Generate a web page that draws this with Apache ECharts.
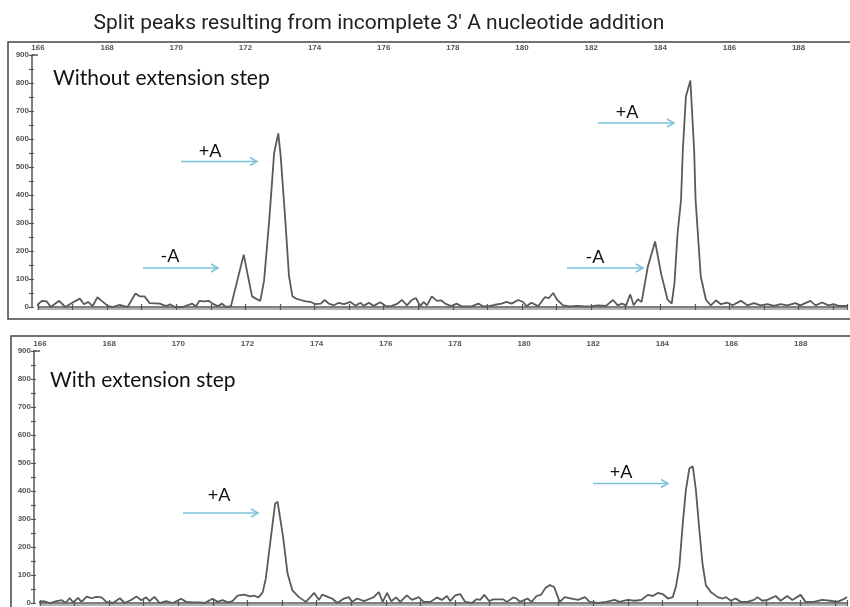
<!DOCTYPE html>
<html>
<head>
<meta charset="utf-8">
<script src="https://cdn.jsdelivr.net/npm/echarts@6/dist/echarts.min.js"></script>
<style>
    html, body { margin: 0; padding: 0; background: #fff; }
    #chart { width: 850px; height: 607px; }
</style>
</head>
<body>
<div id="chart"></div>
<script>
// electropherogram traces, [size (bp), RFU]
const topTrace = [
    [165.83, 18], [165.96, 5], [166.11, 22], [166.25, 20], [166.37, 0], [166.61, 22], [166.79, 0], [166.98, 14],
    [167.21, 30], [167.33, 10], [167.45, 18], [167.58, 3], [167.72, 35], [167.84, 22], [168.03, 3], [168.16, 0],
    [168.36, 8], [168.59, 0], [168.82, 48], [168.94, 38], [169.08, 38], [169.23, 14], [169.52, 12], [169.71, 3],
    [169.82, 10], [169.95, 0], [170.18, 0], [170.46, 12], [170.57, 3], [170.67, 22], [170.81, 20], [170.94, 22],
    [171.05, 12], [171.2, 3], [171.32, 12], [171.44, 0], [171.58, 3], [171.95, 187], [172.19, 38], [172.3, 30],
    [172.43, 22], [172.54, 95], [172.69, 312], [172.83, 550], [172.95, 620], [173.02, 538], [173.15, 316], [173.26, 110],
    [173.36, 38], [173.46, 30], [173.6, 25], [173.74, 20], [173.89, 18], [174.03, 10], [174.18, 12], [174.29, 25],
    [174.41, 12], [174.56, 6], [174.7, 15], [174.85, 10], [175.04, 18], [175.18, 5], [175.33, 15], [175.42, 4],
    [175.57, 15], [175.71, 4], [175.9, 17], [176.07, 3], [176.23, 4], [176.37, 10], [176.53, 25], [176.67, 6],
    [176.8, 24], [176.93, 32], [177.06, 3], [177.15, 18], [177.25, 6], [177.39, 38], [177.54, 22], [177.66, 24],
    [177.78, 12], [177.95, 3], [178.11, 12], [178.26, 2], [178.54, 2], [178.74, 12], [178.88, 2], [179.07, 4],
    [179.22, 8], [179.41, 12], [179.55, 18], [179.7, 12], [179.89, 25], [180.03, 18], [180.13, 3], [180.27, 15],
    [180.47, 3], [180.66, 35], [180.78, 32], [180.9, 50], [181.02, 25], [181.19, 6], [181.38, 2], [181.62, 4],
    [181.81, 2], [182.0, 3], [182.2, 6], [182.43, 4], [182.63, 25], [182.77, 6], [182.89, 12], [183.01, 6],
    [183.13, 45], [183.23, 6], [183.35, 28], [183.46, 18], [183.64, 145], [183.85, 234], [184.02, 121], [184.21, 26],
    [184.33, 12], [184.41, 86], [184.5, 264], [184.6, 383], [184.65, 556], [184.74, 752], [184.87, 809], [184.98, 556],
    [185.02, 383], [185.17, 109], [185.32, 26], [185.46, 6], [185.61, 24], [185.75, 10], [185.94, 16], [186.09, 6],
    [186.33, 22], [186.52, 6], [186.71, 14], [186.9, 6], [187.1, 10], [187.29, 4], [187.48, 10], [187.67, 6],
    [187.91, 14], [188.05, 6], [188.34, 22], [188.49, 6], [188.68, 16], [188.87, 6], [189.01, 10], [189.16, 4], [189.4, 4]
]
const bottomTrace = [
    [165.81, 4], [165.9, 0], [166.1, 7], [166.29, 0], [166.48, 7], [166.63, 10], [166.74, 0], [166.86, 18],
    [166.96, 2], [167.1, 18], [167.2, 4], [167.35, 23], [167.49, 17], [167.63, 22], [167.78, 20], [167.92, 4],
    [168.11, 0], [168.31, 17], [168.45, 0], [168.62, 10], [168.79, 23], [168.93, 10], [169.07, 20], [169.17, 7],
    [169.31, 22], [169.46, 0], [169.65, 7], [169.84, 0], [170.08, 15], [170.23, 4], [170.42, 2], [170.61, 2],
    [170.76, 0], [170.99, 15], [171.14, 4], [171.28, 10], [171.43, 2], [171.57, 7], [171.71, 26], [171.91, 30],
    [172.07, 24], [172.2, 26], [172.32, 20], [172.44, 38], [172.53, 87], [172.68, 236], [172.8, 355], [172.87, 362],
    [172.92, 355], [173.03, 236], [173.16, 105], [173.3, 45], [173.49, 21], [173.69, 4], [173.93, 36], [174.07, 11],
    [174.16, 30], [174.36, 20], [174.45, 16], [174.6, 0], [174.79, 16], [174.93, 21], [175.03, 4], [175.17, 16],
    [175.37, 7], [175.56, 16], [175.65, 21], [175.8, 39], [175.91, 4], [176.04, 36], [176.16, 6], [176.3, 20],
    [176.42, 4], [176.61, 27], [176.76, 11], [176.95, 21], [177.1, 4], [177.29, 4], [177.48, 20], [177.62, 11],
    [177.77, 25], [177.86, 7], [178.01, 27], [178.15, 32], [178.3, 4], [178.49, 0], [178.63, 14], [178.73, 11],
    [178.85, 29], [178.99, 7], [179.11, 13], [179.4, 13], [179.5, 4], [179.69, 20], [179.78, 16], [179.88, 4],
    [180.1, 16], [180.22, 4], [180.36, 25], [180.49, 29], [180.62, 54], [180.75, 64], [180.87, 57], [181.03, 4],
    [181.18, 21], [181.37, 16], [181.56, 11], [181.76, 21], [181.9, 4], [182.14, 0], [182.38, 4], [182.62, 11],
    [182.76, 4], [183.0, 11], [183.2, 8], [183.39, 11], [183.58, 29], [183.72, 25], [183.87, 36], [184.01, 32],
    [184.16, 16], [184.3, 21], [184.39, 57], [184.49, 129], [184.59, 284], [184.68, 403], [184.78, 480], [184.88, 488],
    [184.97, 403], [185.07, 260], [185.16, 141], [185.26, 63], [185.4, 39], [185.6, 21], [185.74, 16], [185.84, 21],
    [185.98, 8], [186.12, 16], [186.27, 4], [186.46, 4], [186.65, 11], [186.75, 21], [186.89, 8], [187.04, 11],
    [187.28, 25], [187.42, 8], [187.61, 25], [187.76, 11], [188.0, 29], [188.14, 4], [188.38, 4], [188.62, 11],
    [188.86, 8], [189.05, 4], [189.25, 14], [189.34, 21]
]
const sizeRange = [166, 189.4]
const rfuRange = [0, 900]
const titleText = "Split peaks resulting from incomplete 3' A nucleotide addition"
const panelTitles = ['Without extension step', 'With extension step']

const axisColor = '#555'
const arrowColor = '#7cc3d9'

function xAxes (gridIndex, max) {
    let base = {
        gridIndex: gridIndex,
        type: 'value',
        min: sizeRange[0],
        max: max,
        interval: 1,
        splitLine: { show: false }
    }
    return [
        Object.assign({}, base, {
            position: 'top',
            axisLine: { show: true, lineStyle: { color: axisColor, width: 1.5 } },
            axisTick: { show: true, length: 3, lineStyle: { color: axisColor, width: 1.2 } },
            axisLabel: {
                show: true,
                margin: 3,
                fontSize: 8,
                fontWeight: 'bold',
                fontFamily: 'Liberation Sans',
                color: '#555',
                formatter: function (v) { return v % 2 === 0 ? v : '' }
            }
        }),
        Object.assign({}, base, {
            position: 'top',
            axisLine: { show: false },
            axisTick: { show: true, inside: true, length: 3, lineStyle: { color: axisColor, width: 1.2 } },
            axisLabel: { show: false }
        }),
        Object.assign({}, base, {
            position: 'bottom',
            offset: 2,
            axisLine: { show: true, lineStyle: { color: '#999', width: 1.5 } },
            axisTick: { show: false },
            axisLabel: { show: false }
        })
    ]
}

function yAxes (gridIndex) {
    let base = {
        gridIndex: gridIndex,
        type: 'value',
        position: 'left',
        offset: 6,
        min: rfuRange[0],
        max: rfuRange[1],
        interval: 50,
        splitLine: { show: false }
    }
    return [
        Object.assign({}, base, {
            axisLine: { show: true, lineStyle: { color: axisColor, width: 1.5 } },
            axisTick: { show: true, length: 3, lineStyle: { color: axisColor, width: 1.2 } },
            axisLabel: {
                show: true,
                margin: 3,
                fontSize: 8,
                fontWeight: 'bold',
                fontFamily: 'Liberation Sans',
                color: '#555',
                formatter: function (v) { return v % 100 === 0 ? v : '' }
            }
        }),
        Object.assign({}, base, {
            axisLine: { show: false },
            axisTick: { show: true, inside: true, length: 2, lineStyle: { color: axisColor, width: 1.2 } },
            axisLabel: { show: false }
        })
    ]
}

function arrow (x1, x2, y) {
    return [{
        type: 'line',
        shape: { x1: x1, y1: y, x2: x2, y2: y },
        style: { stroke: arrowColor, lineWidth: 1.5 }
    }, {
        type: 'polyline',
        shape: { points: [[x2 - 7, y - 4], [x2, y], [x2 - 7, y + 4]] },
        style: { stroke: arrowColor, lineWidth: 1.5, fill: null }
    }]
}

function label (text, x, y, size) {
    return {
        type: 'text',
        x: x,
        y: y,
        style: {
            text: text,
            fontSize: size,
            fontFamily: 'Lato',
            fill: '#111',
            align: 'center',
            verticalAlign: 'middle'
        }
    }
}

let graphics = [
    {
        type: 'rect',
        shape: { x: 8, y: 42, width: 900, height: 277 },
        style: { stroke: '#444', lineWidth: 1.5, fill: null },
        z: -1
    },
    {
        type: 'rect',
        shape: { x: 11, y: 336, width: 900, height: 300 },
        style: { stroke: '#444', lineWidth: 1.5, fill: null },
        z: -1
    },
    // x axis lines run back to the y axis
    { type: 'line', shape: { x1: 32, y1: 55, x2: 38, y2: 55 }, style: { stroke: axisColor, lineWidth: 1.5 } },
    { type: 'line', shape: { x1: 33, y1: 351, x2: 40, y2: 351 }, style: { stroke: axisColor, lineWidth: 1.5 } },
    {
        type: 'text',
        left: 53,
        top: 68,
        style: { text: panelTitles[0], fontSize: 21, fontFamily: 'Lato', fill: '#111' }
    },
    {
        type: 'text',
        left: 50,
        top: 370,
        style: { text: panelTitles[1], fontSize: 21, fontFamily: 'Lato', fill: '#111' }
    },
    label('+A', 210, 151, 18),
    label('-A', 170, 256, 18),
    label('+A', 627, 112, 18),
    label('-A', 595, 257, 18),
    label('+A', 219, 495, 18),
    label('+A', 621, 472, 18)
]
graphics = graphics
    .concat(arrow(181, 257, 161.5))
    .concat(arrow(143, 218, 268))
    .concat(arrow(598, 674, 123))
    .concat(arrow(567, 643, 268))
    .concat(arrow(183, 258, 513))
    .concat(arrow(593, 668, 483.5))

let myChart = echarts.init(document.getElementById('chart'))
myChart.setOption({
    backgroundColor: '#fff',
    animation: false,
    title: {
        text: titleText,
        left: 374,
        top: 8,
        textAlign: 'center',
        textStyle: {
            fontFamily: 'Roboto',
            fontSize: 21,
            fontWeight: 'normal',
            color: '#222'
        }
    },
    grid: [
        { left: 38, right: 0, top: 55, height: 252 },
        { left: 40, right: 0, top: 351, height: 252 }
    ],
    xAxis: xAxes(0, sizeRange[1]).concat(xAxes(1, 189.34)),
    yAxis: yAxes(0).concat(yAxes(1)),
    series: [
        {
            type: 'line',
            xAxisIndex: 0,
            yAxisIndex: 0,
            data: topTrace,
            showSymbol: false,
            clip: false,
            lineStyle: { color: '#5a5a5a', width: 1.8 }
        },
        {
            type: 'line',
            xAxisIndex: 3,
            yAxisIndex: 2,
            data: bottomTrace,
            showSymbol: false,
            clip: false,
            lineStyle: { color: '#5a5a5a', width: 1.8 }
        }
    ],
    graphic: graphics
})
</script>
</body>
</html>
